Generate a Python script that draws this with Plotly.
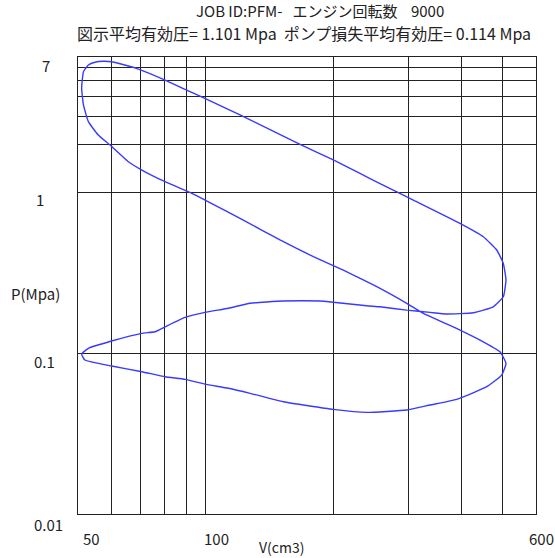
import math
import plotly.graph_objects as go

# Indicator diagram (log P vs log V), one full 4-stroke cycle:
# expansion -> exhaust -> intake -> compression -> combustion
volume_cm3 = [
    60.0, 62.2, 69.4, 80.2, 90.9, 96.9, 103.3, 120.4, 166.8, 199.8, 230.9, 257.4,
    308.4, 397.2, 450.8, 484.8, 502.5, 509.8, 502.5, 475.9, 427.0, 369.6, 337.6,
    297.6, 257.4, 239.4, 199.8, 185.9, 152.3, 127.2, 113.1, 99.6, 89.4, 80.2, 75.9,
    70.7, 60.0, 52.9, 51.0,
    51.9, 60.0, 70.7, 80.2, 89.4, 99.6, 113.1, 127.2, 152.3, 199.8, 239.4, 297.6,
    337.6, 390.2, 459.2, 498.1, 509.8,
    493.5, 442.9, 397.2, 325.6, 297.6, 257.4, 230.9, 210.9, 179.3, 149.6, 122.6,
    99.6, 92.7, 80.2, 70.7, 65.7, 59.5, 55.8, 52.9, 51.5, 51.0, 51.5, 52.9, 54.8,
    57.3, 60.0,
]
pressure_mpa = [
    6.54, 6.40, 5.89, 5.03, 4.31, 4.00, 3.69, 3.05, 2.00, 1.60, 1.32, 1.14,
    0.90, 0.645, 0.532, 0.440, 0.363, 0.286, 0.225, 0.195, 0.179, 0.176, 0.180,
    0.186, 0.195, 0.198, 0.208, 0.212, 0.212, 0.205, 0.191, 0.180, 0.1675, 0.1464, 0.1364,
    0.1333, 0.1194, 0.1075, 0.099,
    0.0909, 0.0834, 0.0769, 0.0715, 0.0689, 0.0644, 0.0606, 0.0564, 0.0500, 0.0448, 0.0429, 0.0444,
    0.0477, 0.0517, 0.0620, 0.0733, 0.0867,
    0.1023, 0.121, 0.1397, 0.1774, 0.205, 0.254, 0.293, 0.330, 0.400, 0.508, 0.676,
    0.901, 0.992, 1.171, 1.385, 1.56, 1.98, 2.29, 2.77, 3.52, 4.47, 5.67, 6.24, 6.49,
    6.58, 6.54,
]

x_grid = [60, 70, 80, 90, 100, 200, 300, 400, 500]
y_grid = [0.1, 1, 2, 3, 4, 5, 6]
x_range = (50, 600)
y_range = (0.01, 7)

x_labels = ["50", "100", "600"]
x_label_vals = [50, 100, 600]
y_labels = ["7", "1", "0.1", "0.01"]
y_label_vals = [7, 1, 0.1, 0.01]

title_line1 = "JOB ID:PFM-   エンジン回転数    9000"
title_line2 = "図示平均有効圧= 1.101 Mpa  ポンプ損失平均有効圧= 0.114 Mpa"
x_title = "V(cm3)"
y_title = "P(Mpa)"

FONT = "Noto Sans CJK JP"
GRID = "#222222"
LINE = "#3a3aff"

fig = go.Figure()
fig.add_trace(go.Scatter(
    x=volume_cm3, y=pressure_mpa, mode="lines",
    line=dict(color=LINE, width=1.4, shape="spline", smoothing=0.4),
    hoverinfo="x+y", showlegend=False,
))

axis_common = dict(
    type="log", showgrid=True, gridcolor=GRID, gridwidth=1.2,
    showline=True, mirror=True, linecolor=GRID, linewidth=1.4,
    ticks="", showticklabels=False, zeroline=False, fixedrange=True,
)
fig.update_xaxes(range=[math.log10(x_range[0]), math.log10(x_range[1])],
                 tickvals=x_grid, **axis_common)
fig.update_yaxes(range=[math.log10(y_range[0]), math.log10(y_range[1])],
                 tickvals=y_grid, **axis_common)

annotations = []
# x-axis numbers sit just right of their gridline
x_shift = {"50": 13, "100": 11, "600": 5}
for lab, v in zip(x_labels, x_label_vals):
    annotations.append(dict(
        text=lab, x=math.log10(v), xref="x", y=0, yref="paper",
        xanchor="center", yanchor="middle", xshift=x_shift[lab], yshift=-24,
        showarrow=False, font=dict(family=FONT, size=15, color="#222"),
    ))
# y-axis numbers sit slightly below their gridline
y_pos = {"7": (-32, -8), "1": (-38, -7), "0.1": (-34, -8), "0.01": (-30, -10)}
for lab, v in zip(y_labels, y_label_vals):
    dx, dy = y_pos[lab]
    annotations.append(dict(
        text=lab, x=0, xref="paper", y=math.log10(v), yref="y",
        xanchor="center", yanchor="middle", xshift=dx, yshift=dy,
        showarrow=False, font=dict(family=FONT, size=15, color="#222"),
    ))

W, H = 555, 558
L, R, T, B = 78, 19, 57, 44


def paper_x(px):
    return (px - L) / (W - L - R)


def paper_y(py):
    return (H - B - py) / (H - T - B)


for text, px, py, size in [(title_line1, 320, 10.5, 15), (title_line2, 304, 33, 16),
                           (x_title, 281, 547, 14), (y_title, 35, 293, 15)]:
    annotations.append(dict(
        text=text, x=paper_x(px), y=paper_y(py), xref="paper", yref="paper",
        xanchor="center", yanchor="middle", showarrow=False,
        font=dict(family=FONT, size=size, color="#222"),
    ))

fig.update_layout(
    width=W, height=H,
    margin=dict(l=L, r=R, t=T, b=B),
    paper_bgcolor="white", plot_bgcolor="white",
    annotations=annotations,
)

fig.write_html("out.html")
